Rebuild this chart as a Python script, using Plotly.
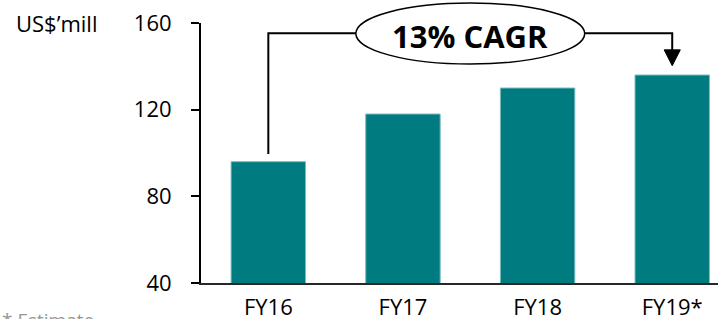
import plotly.graph_objects as go

categories = ["FY16", "FY17", "FY18", "FY19*"]
values = [96, 118, 130, 136]
y_ticks = [40, 80, 120, 160]
cagr_label = "13% CAGR"
unit_label = "US$’mill"
footnote = "* Estimate"

FONT = "Open Sans"
TEAL = "rgb(0,123,128)"

plot_left = 201
plot_width = 718 - plot_left

fig = go.Figure()
fig.add_trace(go.Bar(
    x=list(range(len(categories))),
    y=values,
    width=0.553,
    marker=dict(color=TEAL, line=dict(color="rgb(125,190,192)", width=1)),
    hoverinfo="skip",
))

# bracket lines (data coordinates)
fig.add_shape(type="path", xref="x", yref="y",
              path="M 0,99.5 L 0,155.3 L 0.7,155.3",
              line=dict(color="black", width=2))
fig.add_shape(type="path", xref="x", yref="y",
              path="M 2.3,155.3 L 3,155.3 L 3,147",
              line=dict(color="black", width=2))
fig.add_shape(type="path", xref="x", yref="y",
              path="M 2.94,147.6 L 3.06,147.6 L 3,140.3 Z",
              fillcolor="black", line=dict(color="black", width=1))
fig.add_shape(type="circle", xref="x", yref="paper",
              x0=0.65, x1=2.35, y0=0.842, y1=1.077,
              fillcolor="white", line=dict(color="black", width=1.5))

fig.add_annotation(x=1.5, y=0.95, xref="x", yref="paper", text=f"<b>{cagr_label}</b>",
                   showarrow=False, font=dict(family=FONT, size=31, color="black"),
                   xanchor="center", yanchor="middle")
fig.add_annotation(x=(14 - plot_left) / plot_width, y=1.0, xref="paper", yref="paper",
                   text=unit_label, showarrow=False,
                   font=dict(family=FONT, size=22, color="black"),
                   xanchor="left", yanchor="middle")
fig.add_annotation(x=(0 - plot_left) / plot_width, y=-0.085, xref="paper", yref="paper",
                   text=footnote, showarrow=False,
                   font=dict(family=FONT, size=19, color="rgb(150,150,150)"),
                   xanchor="left", yanchor="top")

fig.update_layout(
    template="none",
    width=718, height=319,
    margin=dict(l=plot_left, r=0, t=23, b=36, pad=0),
    plot_bgcolor="white", paper_bgcolor="white",
    showlegend=False,
    font=dict(family=FONT, size=22, color="black"),
)
fig.update_xaxes(
    range=[-0.5, 3.34], automargin=False,
    tickmode="array", tickvals=list(range(len(categories))), ticktext=categories,
    showline=True, linecolor="rgb(40,40,40)", linewidth=1.5,
    ticks="", showgrid=False, zeroline=False,
    tickfont=dict(family=FONT, size=22, color="black"),
    ticklabelstandoff=4,
)
fig.update_yaxes(
    range=[40, 160], automargin=False,
    tickmode="array", tickvals=y_ticks,
    showline=True, linecolor="black", linewidth=2,
    ticks="outside", ticklen=8, tickwidth=2, tickcolor="black",
    showgrid=False, zeroline=False,
    tickfont=dict(family=FONT, size=22, color="black"),
    ticklabelstandoff=15,
)

fig.write_html(
    "out.html",
    config={"displayModeBar": False, "staticPlot": True},
    post_script="document.body.style.margin='0px'; document.body.style.overflow='hidden';",
)
